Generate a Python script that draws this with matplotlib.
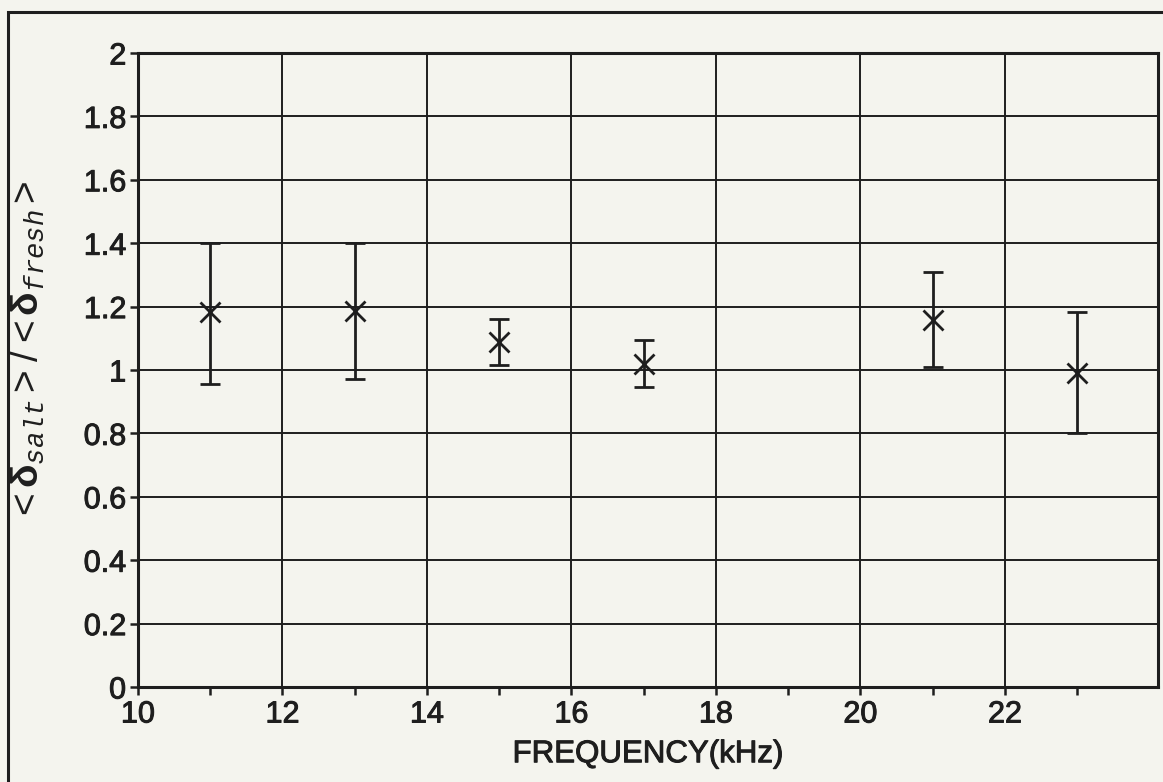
import matplotlib
matplotlib.use("Agg")
import matplotlib.pyplot as plt
import matplotlib.patheffects as pe
from matplotlib.patches import Rectangle
import numpy as np

freq = [11, 13, 15, 17, 21, 23]
ratio = [1.183, 1.186, 1.088, 1.02, 1.157, 0.99]
upper = [1.40, 1.40, 1.16, 1.094, 1.31, 1.183]
lower = [0.956, 0.972, 1.016, 0.946, 1.01, 0.80]
xticks = [10, 12, 14, 16, 18, 20, 22]
yticks = [0, 0.2, 0.4, 0.6, 0.8, 1, 1.2, 1.4, 1.6, 1.8, 2]
ytick_labels = ["0", "0.2", "0.4", "0.6", "0.8", "1", "1.2", "1.4", "1.6", "1.8", "2"]

plt.rcParams['font.family'] = ['Liberation Sans', 'DejaVu Sans']
plt.rcParams['mathtext.fontset'] = 'custom'
plt.rcParams['mathtext.rm'] = 'Liberation Sans'
plt.rcParams['mathtext.it'] = 'Liberation Mono:italic'
plt.rcParams['mathtext.bf'] = 'Liberation Sans:bold'

bg = '#f4f4ee'
ink = '#1e1e1e'
thick = [pe.withStroke(linewidth=0.7, foreground=ink)]

fig = plt.figure(figsize=(11.63, 7.82), dpi=100, facecolor=bg)
ax = fig.add_axes([138/1163, 1-687/782, (1158-138)/1163, (687-53)/782])
ax.set_facecolor(bg)

yerr = [np.array(ratio) - np.array(lower), np.array(upper) - np.array(ratio)]
ax.errorbar(freq, ratio, yerr=yerr, fmt='x', color=ink, ms=14, mew=2.0,
            elinewidth=2.0, capsize=7, capthick=2.6, zorder=3)

ax.set_xlim(10, 24.12)
ax.set_ylim(0, 2)
ax.set_xticks(xticks)
ax.set_xticks([11, 13, 15, 17, 19, 21, 23], minor=True)
ax.set_yticks(yticks)
ax.set_yticklabels(ytick_labels)
ax.grid(True, which='major', color=ink, linewidth=1.4)
ax.set_axisbelow(True)

for s in ax.spines.values():
    s.set_linewidth(2.2)
    s.set_color(ink)

ax.tick_params(axis='both', which='both', direction='out', length=6, width=1.8,
               color=ink, labelsize=22, labelcolor=ink)
ax.tick_params(axis='x', which='major', pad=3)
ax.tick_params(axis='y', which='major', pad=2.5)
for lab in ax.get_xticklabels() + ax.get_yticklabels():
    lab.set_path_effects(thick)

xl = ax.set_xlabel('FREQUENCY(kHz)', fontsize=22.5, color=ink, labelpad=7)
xl.set_path_effects(thick)

fig.text(28/1163, 1 - 350/782,
         r'$\mathrm{<}\mathbf{δ}_{\mathit{salt}}\mathrm{>}\,/\,\mathrm{<}\mathbf{δ}_{\mathit{fresh}}\mathrm{>}$',
         rotation=90, ha='center', va='center', fontsize=28, color=ink)

frame = Rectangle((8/1163, -0.2), 2.0, 1.2 - 12/782, transform=fig.transFigure,
                  fill=False, edgecolor=ink, linewidth=2.2, clip_on=False)
fig.add_artist(frame)

fig.savefig('out.png', dpi=100, facecolor=bg)
